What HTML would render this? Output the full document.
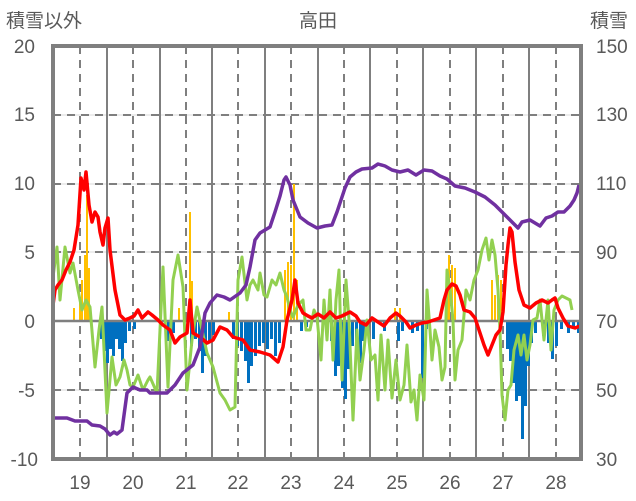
<!DOCTYPE html>
<html><head><meta charset="utf-8"><style>
body{margin:0;background:#fff;}
svg{display:block;font-family:"Liberation Sans","Noto Sans CJK JP",sans-serif;}
</style></head><body>
<svg width="636" height="501" viewBox="0 0 636 501" xmlns="http://www.w3.org/2000/svg">
<rect width="636" height="501" fill="#fff"/>
<text x="6" y="27" font-size="19" fill="#595959">積雪以外</text>
<text x="318" y="27" font-size="19" fill="#595959" text-anchor="middle">高田</text>
<text x="590" y="27" font-size="19" fill="#595959">積雪</text>
<g font-size="19" fill="#595959" text-anchor="end">
<text x="35" y="53">20</text><text x="35" y="121">15</text><text x="35" y="190">10</text>
<text x="35" y="259">5</text><text x="35" y="328">0</text><text x="35" y="397">-5</text><text x="38" y="466">-10</text>
</g>
<g font-size="19" fill="#595959">
<text x="596" y="53">150</text><text x="596" y="121">130</text><text x="596" y="190">110</text>
<text x="596" y="259">90</text><text x="596" y="328">70</text><text x="596" y="397">50</text><text x="596" y="466">30</text>
</g>
<g font-size="19" fill="#595959" text-anchor="middle">
<text x="80" y="489">19</text><text x="133" y="489">20</text><text x="186" y="489">21</text><text x="238" y="489">22</text><text x="291" y="489">23</text><text x="344" y="489">24</text><text x="397" y="489">25</text><text x="450" y="489">26</text><text x="503" y="489">27</text><text x="556" y="489">28</text>
</g>
<g stroke="#d9d9d9" stroke-width="1"><line x1="53" y1="115" x2="581" y2="115"/><line x1="53" y1="184" x2="581" y2="184"/><line x1="53" y1="252" x2="581" y2="252"/><line x1="53" y1="390" x2="581" y2="390"/></g>
<g stroke="#7f7f7f" stroke-width="2" stroke-dasharray="8,6">
<line x1="53" y1="115" x2="581" y2="115"/><line x1="53" y1="184" x2="581" y2="184"/><line x1="53" y1="252" x2="581" y2="252"/><line x1="53" y1="390" x2="581" y2="390"/>
<line x1="80" y1="46" x2="80" y2="459"/><line x1="133" y1="46" x2="133" y2="459"/><line x1="186" y1="46" x2="186" y2="459"/><line x1="238" y1="46" x2="238" y2="459"/><line x1="291" y1="46" x2="291" y2="459"/><line x1="344" y1="46" x2="344" y2="459"/><line x1="397" y1="46" x2="397" y2="459"/><line x1="450" y1="46" x2="450" y2="459"/><line x1="503" y1="46" x2="503" y2="459"/><line x1="556" y1="46" x2="556" y2="459"/>
</g>
<g stroke="#7f7f7f" stroke-width="2">
<line x1="107" y1="46" x2="107" y2="459"/><line x1="160" y1="46" x2="160" y2="459"/><line x1="212" y1="46" x2="212" y2="459"/><line x1="265" y1="46" x2="265" y2="459"/><line x1="318" y1="46" x2="318" y2="459"/><line x1="370" y1="46" x2="370" y2="459"/><line x1="423" y1="46" x2="423" y2="459"/><line x1="476" y1="46" x2="476" y2="459"/><line x1="529" y1="46" x2="529" y2="459"/>
</g>
<g fill="#ffc000">
<rect x="73" y="308" width="2" height="13"/><rect x="79" y="300" width="2" height="21"/><rect x="81" y="280" width="2" height="41"/><rect x="84" y="255" width="2" height="66"/><rect x="86" y="195" width="2" height="126"/><rect x="88" y="268" width="2" height="53"/>
<rect x="178" y="308" width="2" height="13"/><rect x="189" y="212" width="2" height="109"/><rect x="191" y="281" width="2" height="40"/><rect x="228" y="312" width="2" height="9"/>
<rect x="284" y="270" width="2" height="51"/><rect x="287" y="262" width="2" height="59"/><rect x="290" y="265" width="2" height="56"/><rect x="293" y="184" width="2" height="137"/><rect x="296" y="280" width="2" height="41"/>
<rect x="394" y="308" width="2" height="13"/><rect x="399" y="308" width="2" height="13"/>
<rect x="446" y="280" width="2" height="41"/><rect x="448" y="255" width="2" height="66"/><rect x="451" y="265" width="2" height="56"/><rect x="454" y="268" width="2" height="53"/>
<rect x="491" y="280" width="2" height="41"/><rect x="494" y="295" width="2" height="26"/><rect x="497" y="275" width="2" height="46"/><rect x="500" y="280" width="2" height="41"/>
</g>
<g fill="#0070c0">
<rect x="100" y="321" width="3" height="18"/><rect x="103" y="321" width="3" height="30"/><rect x="106" y="321" width="3" height="42"/><rect x="109" y="321" width="3" height="28"/><rect x="112" y="321" width="3" height="35"/><rect x="115" y="321" width="3" height="18"/><rect x="118" y="321" width="3" height="28"/><rect x="121" y="321" width="3" height="40"/><rect x="124" y="321" width="3" height="22"/><rect x="128" y="321" width="3" height="10"/><rect x="133" y="321" width="3" height="8"/>
<rect x="167" y="321" width="3" height="20"/><rect x="172" y="321" width="3" height="12"/><rect x="190" y="321" width="3" height="25"/><rect x="194" y="321" width="3" height="18"/><rect x="198" y="321" width="3" height="30"/><rect x="201" y="321" width="3" height="52"/><rect x="204" y="321" width="3" height="35"/><rect x="208" y="321" width="3" height="20"/><rect x="212" y="321" width="3" height="14"/>
<rect x="232" y="321" width="3" height="18"/><rect x="236" y="321" width="3" height="25"/><rect x="240" y="321" width="3" height="30"/><rect x="244" y="321" width="3" height="40"/><rect x="247" y="321" width="3" height="62"/><rect x="250" y="321" width="3" height="45"/><rect x="254" y="321" width="3" height="35"/><rect x="258" y="321" width="3" height="25"/><rect x="262" y="321" width="3" height="22"/><rect x="266" y="321" width="3" height="28"/><rect x="270" y="321" width="3" height="18"/><rect x="274" y="321" width="3" height="35"/><rect x="278" y="321" width="3" height="22"/>
<rect x="300" y="321" width="3" height="10"/><rect x="305" y="321" width="3" height="6"/><rect x="330" y="321" width="3" height="20"/><rect x="334" y="321" width="3" height="55"/><rect x="337" y="321" width="3" height="45"/><rect x="341" y="321" width="3" height="67"/><rect x="344" y="321" width="3" height="78"/><rect x="347" y="321" width="3" height="48"/><rect x="351" y="321" width="3" height="25"/><rect x="355" y="321" width="3" height="20"/><rect x="359" y="321" width="3" height="42"/><rect x="362" y="321" width="3" height="20"/>
<rect x="372" y="321" width="3" height="18"/><rect x="383" y="321" width="3" height="10"/><rect x="397" y="321" width="3" height="20"/><rect x="401" y="321" width="3" height="10"/><rect x="411" y="321" width="3" height="12"/><rect x="416" y="321" width="3" height="10"/><rect x="421" y="321" width="3" height="57"/><rect x="425" y="321" width="3" height="8"/>
<rect x="506" y="321" width="3" height="28"/><rect x="509" y="321" width="3" height="40"/><rect x="512" y="321" width="3" height="62"/><rect x="515" y="321" width="3" height="80"/><rect x="518" y="321" width="3" height="75"/><rect x="521" y="321" width="3" height="118"/><rect x="524" y="321" width="3" height="85"/><rect x="527" y="321" width="3" height="45"/><rect x="530" y="321" width="3" height="22"/><rect x="534" y="321" width="3" height="12"/>
<rect x="542" y="321" width="3" height="15"/><rect x="547" y="321" width="3" height="22"/><rect x="551" y="321" width="3" height="38"/><rect x="555" y="321" width="3" height="25"/><rect x="560" y="321" width="3" height="8"/><rect x="567" y="321" width="3" height="12"/><rect x="572" y="321" width="3" height="8"/><rect x="577" y="321" width="3" height="12"/>
</g>
<line x1="53" y1="321" x2="581" y2="321" stroke="#7f7f7f" stroke-width="2.5"/>
<polyline fill="none" stroke="#92d050" stroke-width="3" stroke-linejoin="round" points="53,277 57,247 60,300 65,247 70,273 73,263 78,290 82,310 86,300 90,307 95,367 99,330 102,307 107,413 112,357 116,385 120,377 124,360 127,370 130,385 133,387 138,375 143,390 148,380 150,377 157,393 163,267 168,387 173,280 178,255 183,287 187,390 192,340 197,307 202,330 207,353 213,367 220,393 225,400 230,410 235,407 238,280 242,257 247,300 250,285 253,280 258,290 260,273 264,295 267,297 272,280 276,285 280,273 284,290 287,297 290,310 293,317 298,305 303,300 306,330 310,330 314,310 317,317 321,360 324,300 327,340 330,290 333,360 336,300 339,270 342,380 346,280 349,320 353,420 357,330 360,380 364,350 367,320 371,360 375,355 378,400 381,335 385,390 388,340 392,398 396,360 400,400 404,385 407,345 411,402 414,390 417,420 420,375 424,400 427,290 430,330 432,360 435,330 439,347 442,380 445,367 447,270 450,290 453,320 455,380 458,350 462,340 466,290 470,300 474,280 478,270 482,250 486,238 489,260 492,240 495,255 498,290 500,330 502,395 505,420 508,390 511,385 514,350 518,335 521,355 524,335 527,360 530,345 533,320 537,318 540,300 544,340 548,300 551,350 554,310 558,300 562,296 566,298 570,300 572,310"/>
<polyline fill="none" stroke="#ff0000" stroke-width="3.5" stroke-linejoin="round" points="53,305 55,290 58,285 62,280 66,270 70,262 74,250 78,225 81,178 84,190 86,172 89,205 92,222 95,212 98,217 100,232 103,245 105,228 108,218 110,250 115,290 120,315 125,320 130,318 134,316 138,310 142,318 148,312 152,315 158,320 163,325 170,330 175,343 180,337 187,333 190,300 193,333 200,337 207,343 213,340 220,327 227,330 233,337 243,340 250,350 260,352 270,355 278,362 283,347 287,320 292,300 295,280 298,303 303,313 308,316 312,318 318,314 324,318 330,312 336,318 342,316 346,314 350,312 356,316 360,322 366,325 372,318 378,322 384,326 390,318 396,313 400,316 406,322 410,328 416,325 422,323 428,322 434,320 440,318 444,300 447,290 452,284 456,286 460,295 464,310 470,312 475,318 479,330 484,345 488,355 492,345 496,335 500,330 503,312 506,265 508,245 510,228 512,232 515,262 519,290 524,305 530,308 536,303 542,300 548,303 552,300 555,298 558,308 563,318 568,326 575,328 580,326"/>
<polyline fill="none" stroke="#7030a0" stroke-width="3.5" stroke-linejoin="round" points="53,418 67,418 75,421 87,421 92,425 100,426 105,429 110,435 114,432 117,434 122,430 127,393 133,387 140,390 147,390 150,393 167,393 175,385 183,373 193,365 200,347 205,313 210,303 217,295 224,297 230,300 240,293 246,285 250,267 255,240 260,233 265,230 270,227 275,212 280,196 284,180 286,177 290,185 293,200 300,217 308,223 317,228 325,226 332,225 337,212 341,200 345,188 350,177 356,172 362,169 372,168 378,164 385,166 392,170 400,172 408,170 416,175 424,170 432,171 440,176 447,179 455,186 465,188 475,192 485,197 495,205 505,215 512,222 518,228 522,222 530,220 540,226 546,218 552,216 558,212 564,212 570,206 574,200 577,193 579,185"/>
<rect x="53" y="46" width="528" height="413" fill="none" stroke="#7f7f7f" stroke-width="4"/>
</svg>
</body></html>
